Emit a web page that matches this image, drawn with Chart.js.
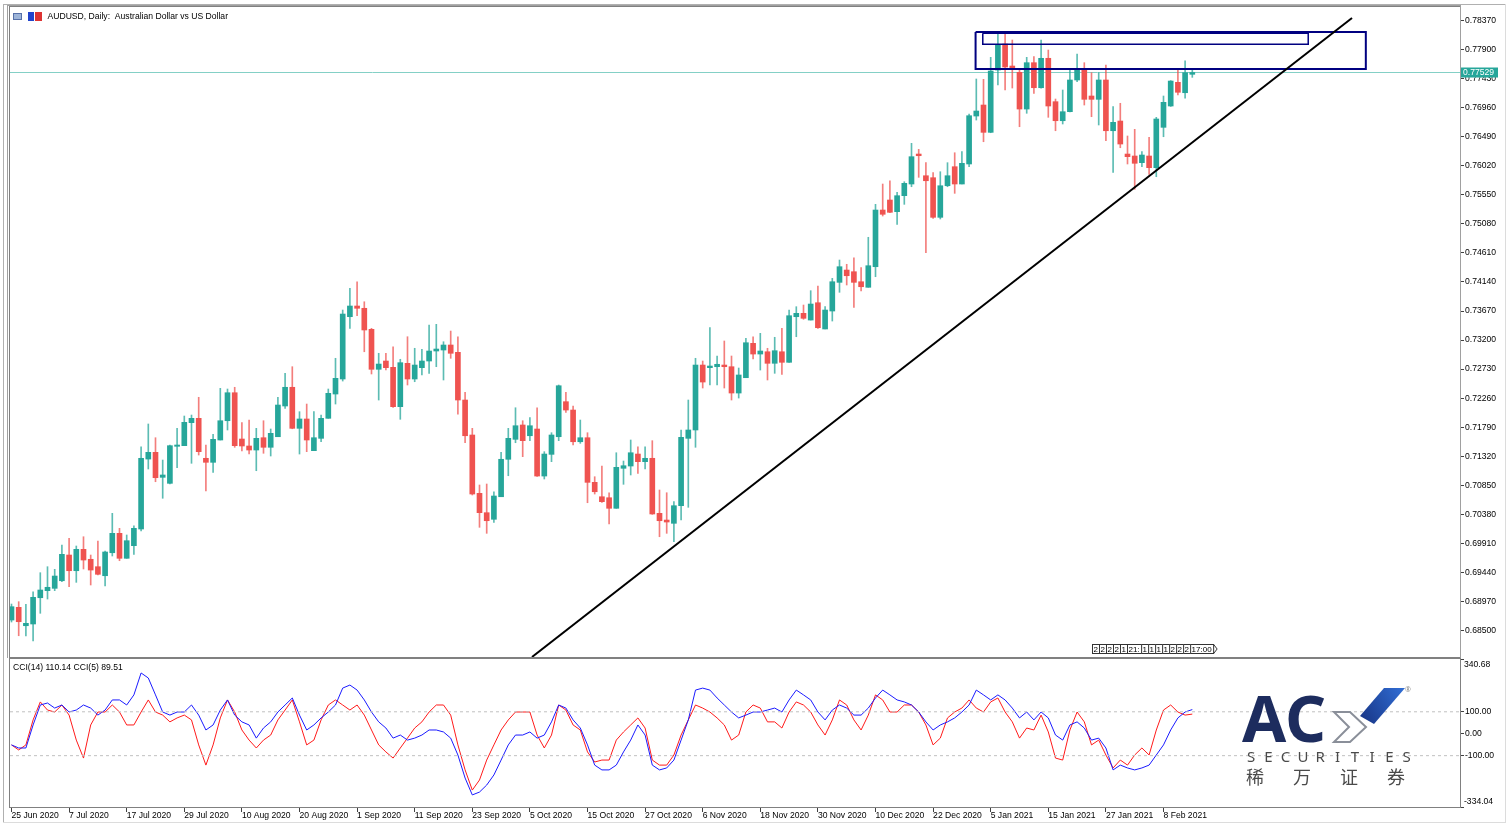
<!DOCTYPE html>
<html>
<head>
<meta charset="utf-8">
<script src="https://cdn.jsdelivr.net/npm/chart.js@4.4.1/dist/chart.umd.min.js"></script>
<style>
  body { margin: 0; background: #fff; width: 1511px; height: 832px; overflow: hidden; position: relative; }
  canvas { position: absolute; left: 0; }
  #main { top: 0; }
  #cci { top: 658px; }
  .frame { position: absolute; background: #b0b0b0; }
</style>
</head>
<body>
<canvas id="main" width="1511" height="658" style="width:1511px;height:658px"></canvas>
<canvas id="cci" width="1511" height="174" style="width:1511px;height:174px"></canvas>
<div class="frame" style="left:3px;top:4px;width:1px;height:819px"></div>
<div class="frame" style="left:3px;top:4px;width:1503px;height:1px"></div>
<div class="frame" style="left:1505px;top:4px;width:1px;height:819px;background:#dcdcdc"></div>
<div class="frame" style="left:3px;top:822px;width:1503px;height:1px;background:#dcdcdc"></div>
<script>
// AUDUSD daily, 25 Jun 2020 .. 12 Feb 2021 (one bar per trading day)
const opens = [
0.68670,0.68876,0.68578,0.68606,0.69031,0.69145,0.69183,0.69306,0.69722,0.69468,
0.69814,0.69653,0.69533,0.69387,0.69759,0.70073,0.69669,0.69873,0.70143,0.71275,
0.71384,0.70979,0.70882,0.71481,0.71491,0.71863,0.71934,0.71287,0.71222,0.71583,
0.71895,0.72348,0.71599,0.71486,0.71421,0.71620,0.71465,0.71636,0.72133,0.72436,
0.71772,0.71923,0.71410,0.71610,0.71934,0.72327,0.72570,0.73578,0.73751,0.73714,
0.73374,0.72727,0.72861,0.72759,0.72122,0.72824,0.72570,0.72753,0.72861,0.73023,
0.73039,0.73120,0.73002,0.72230,0.71664,0.70720,0.70407,0.70300,0.70665,0.71271,
0.71594,0.71826,0.71652,0.71761,0.71000,0.71351,0.71636,0.72203,0.72068,0.71555,
0.71620,0.70898,0.70665,0.70649,0.70478,0.71125,0.71162,0.71356,0.71232,0.71287,
0.70397,0.70288,0.70235,0.70520,0.71610,0.71745,0.72796,0.72753,0.72769,0.72796,
0.72769,0.72343,0.72591,0.73147,0.72974,0.73011,0.72824,0.73011,0.72840,0.73578,
0.73633,0.73524,0.73804,0.73379,0.73670,0.74134,0.74333,0.74306,0.74144,0.74054,
0.74387,0.75304,0.75466,0.75277,0.75536,0.75725,0.76210,0.75859,0.75827,0.75186,
0.75697,0.76005,0.75725,0.76049,0.76825,0.77003,0.76561,0.77569,0.77990,0.77634,
0.77532,0.76938,0.77688,0.77283,0.77759,0.77057,0.76749,0.76895,0.77408,0.77581,
0.77149,0.77095,0.77408,0.76587,0.76744,0.76210,0.76178,0.76070,0.76178,0.75989,
0.76642,0.76987,0.77370,0.77202,0.77500
];
const highs = [
0.68929,0.68967,0.68924,0.69128,0.69436,0.69533,0.69491,0.69884,0.69992,0.69868,
0.70018,0.69722,0.69949,0.69787,0.70397,0.70154,0.70046,0.70196,0.71474,0.71842,
0.71620,0.71259,0.71502,0.71772,0.71971,0.71987,0.72274,0.71502,0.71675,0.72419,
0.72408,0.72436,0.71863,0.71906,0.71772,0.71895,0.71761,0.72274,0.72662,0.72769,
0.72041,0.72165,0.72041,0.71987,0.72408,0.72905,0.73686,0.74037,0.74144,0.73820,
0.73390,0.72986,0.72986,0.73092,0.72889,0.73254,0.73067,0.73050,0.73444,0.73455,
0.73173,0.73346,0.73254,0.72355,0.71772,0.70855,0.70871,0.70746,0.71384,0.71772,
0.72105,0.71895,0.71944,0.72105,0.71394,0.71701,0.72473,0.72355,0.72133,0.71906,
0.71701,0.70989,0.71162,0.70730,0.71377,0.71243,0.71583,0.71474,0.71474,0.71572,
0.70774,0.70730,0.70585,0.71745,0.72230,0.72905,0.72861,0.73400,0.72942,0.73185,
0.72942,0.72748,0.73228,0.73254,0.73309,0.73067,0.73245,0.73390,0.73686,0.73740,
0.73767,0.73999,0.74075,0.73740,0.74199,0.74495,0.74426,0.74532,0.74371,0.74863,
0.75396,0.75725,0.75778,0.75591,0.75762,0.76383,0.76286,0.76070,0.75908,0.75924,
0.76070,0.76231,0.76248,0.76858,0.77424,0.77419,0.77775,0.78168,0.78168,0.78055,
0.77569,0.77775,0.77785,0.78055,0.77893,0.77100,0.77246,0.77581,0.77828,0.77688,
0.77526,0.77526,0.77650,0.76976,0.77031,0.76502,0.76610,0.76248,0.76481,0.76804,
0.77149,0.77398,0.77569,0.77720,0.77586
];
const lows = [
0.68638,0.68416,0.68412,0.68331,0.68779,0.69010,0.69145,0.69290,0.69209,0.69280,
0.69496,0.69237,0.69399,0.69221,0.69706,0.69630,0.69669,0.69733,0.70110,0.71114,
0.70908,0.70640,0.70871,0.71135,0.71491,0.71206,0.71340,0.70758,0.71060,0.71583,
0.71745,0.71465,0.71405,0.71356,0.71086,0.71368,0.71324,0.71636,0.72096,0.71765,
0.71356,0.71394,0.71410,0.71555,0.71934,0.72165,0.72537,0.73390,0.73594,0.73011,
0.72651,0.72230,0.72715,0.72112,0.71918,0.72473,0.72526,0.72635,0.72662,0.72769,
0.72554,0.72905,0.71999,0.71539,0.70693,0.70170,0.70073,0.70251,0.70665,0.71005,
0.71539,0.71313,0.71572,0.70995,0.70952,0.71232,0.71572,0.72031,0.71502,0.71529,
0.70568,0.70709,0.70575,0.70224,0.70478,0.70866,0.71017,0.71044,0.71114,0.70380,
0.70018,0.70073,0.69937,0.70288,0.70494,0.71465,0.72424,0.72473,0.72473,0.72424,
0.72230,0.72262,0.72591,0.72893,0.72715,0.72554,0.72662,0.72646,0.72840,0.73254,
0.73536,0.73524,0.73390,0.73379,0.73508,0.73973,0.74091,0.73730,0.73994,0.74054,
0.74225,0.75207,0.75260,0.75073,0.75396,0.75681,0.75833,0.74613,0.75170,0.75159,
0.75681,0.75574,0.75725,0.76005,0.76760,0.76409,0.76555,0.77327,0.77246,0.77278,
0.76652,0.76869,0.77192,0.77275,0.76804,0.76587,0.76696,0.76890,0.77380,0.77003,
0.76814,0.76680,0.76425,0.75914,0.76312,0.76049,0.75639,0.76005,0.75882,0.75843,
0.76490,0.76980,0.77165,0.77112,0.77451
];
const closes = [
0.68886,0.68643,0.68617,0.69038,0.69156,0.69200,0.69382,0.69733,0.69468,0.69814,
0.69641,0.69479,0.69410,0.69771,0.70073,0.69669,0.69954,0.70154,0.71287,0.71384,
0.70973,0.71017,0.71491,0.71502,0.71869,0.71934,0.71394,0.71222,0.71594,0.71895,
0.72348,0.71491,0.71486,0.71421,0.71610,0.71465,0.71691,0.72149,0.72436,0.71772,
0.71923,0.71583,0.71620,0.71934,0.72338,0.72581,0.73621,0.73751,0.73714,0.73363,
0.72727,0.72812,0.72753,0.72122,0.72834,0.72570,0.72796,0.72861,0.73023,0.73055,
0.73120,0.72986,0.72230,0.71652,0.70709,0.70407,0.70277,0.70677,0.71271,0.71610,
0.71814,0.71572,0.71814,0.71000,0.71356,0.71664,0.72461,0.72068,0.71555,0.71620,
0.70898,0.70746,0.70585,0.70478,0.71141,0.71167,0.71377,0.71232,0.71287,0.70386,
0.70277,0.70256,0.70520,0.71626,0.71745,0.72796,0.72521,0.72780,0.72808,0.72769,
0.72343,0.72635,0.73157,0.72974,0.73023,0.72824,0.73028,0.72840,0.73594,0.73633,
0.73552,0.73783,0.73400,0.73686,0.74144,0.74387,0.74241,0.74134,0.74063,0.74403,
0.75304,0.75235,0.75267,0.75536,0.75736,0.76167,0.76183,0.75778,0.75186,0.75697,
0.75859,0.75725,0.76060,0.76830,0.76906,0.76561,0.77553,0.77974,0.77618,0.77607,
0.76938,0.77688,0.77283,0.77759,0.76987,0.76749,0.76895,0.77408,0.77581,0.77095,
0.77095,0.77408,0.76587,0.76723,0.76372,0.76167,0.76060,0.76194,0.75989,0.76777,
0.77047,0.77391,0.77209,0.77526,0.77529
];
// CCI(14) and CCI(5)
const cci14 = [
-51,-65,-65,40,131,140,117,131,99,108,
131,117,85,108,154,154,131,177,277,254,
177,99,85,99,99,131,85,17,40,108,
154,85,54,40,-20,26,54,99,131,163,
85,17,40,72,99,131,208,222,199,154,
99,54,26,-20,-6,-29,-20,-6,17,17,
8,-20,-97,-202,-279,-266,-234,-188,-120,-51,
-6,-6,8,-20,-6,54,131,117,63,26,
-51,-143,-165,-165,-143,-83,-29,40,-6,-143,
-165,-156,-120,-29,63,199,208,199,163,131,
99,72,85,99,99,108,117,99,154,199,
177,154,99,63,108,131,117,85,85,117,
163,199,177,154,145,131,99,54,17,40,
54,72,99,131,199,177,154,177,154,117,
72,99,63,99,72,-6,-29,40,54,26,
-29,-20,-65,-165,-143,-156,-165,-156,-143,-97,
-51,17,72,99,110.14
];
const cci5 = [
-51,-74,-51,63,145,108,99,131,85,-29,
-111,40,99,99,131,99,40,40,99,154,
99,85,54,72,85,63,-51,-143,-51,72,
154,99,17,-29,-65,-29,-6,63,108,154,
54,-51,-29,63,131,154,131,108,131,85,
17,-51,-83,-111,-65,-20,26,54,99,131,
131,85,-51,-165,-257,-211,-120,-51,17,63,
99,99,99,-6,-65,-6,131,108,40,17,
-83,-129,-120,-120,-29,8,40,72,26,-120,
-143,-143,-97,-6,63,131,117,99,72,40,
-29,-6,99,131,117,54,54,26,99,145,
131,99,40,-6,63,154,131,63,17,85,
177,154,99,99,131,131,99,40,-51,-20,
72,99,117,154,117,99,145,163,99,54,
-20,26,17,85,8,-111,-120,17,99,54,
-51,-29,-97,-156,-120,-143,-97,-65,-97,17,
108,131,99,85,89.51
];
const tickBars = [0,8,16,24,32,40,48,56,64,72,80,88,96,104,112,120,128,136,144,152,160];
const tickLabels = ['25 Jun 2020','7 Jul 2020','17 Jul 2020','29 Jul 2020','10 Aug 2020','20 Aug 2020',
  '1 Sep 2020','11 Sep 2020','23 Sep 2020','5 Oct 2020','15 Oct 2020','27 Oct 2020','6 Nov 2020',
  '18 Nov 2020','30 Nov 2020','10 Dec 2020','22 Dec 2020','5 Jan 2021','15 Jan 2021','27 Jan 2021','8 Feb 2021'];
const priceTicks = [0.68500,0.68970,0.69440,0.69910,0.70380,0.70850,0.71320,0.71790,0.72260,0.72730,0.73200,
  0.73670,0.74140,0.74610,0.75080,0.75550,0.76020,0.76490,0.76960,0.77430,0.77900,0.78370];
const cciTicks = [-334.04, -100, 0, 100, 340.68];
const cciLevels = [100, -100];
const lastPrice = 0.77529;
// drawn objects: [barIndex, price]
const trendLine = [[72.29, 0.68072], [186.18, 0.78411]];
const bigBox = [[133.9, 0.78184], [188.1, 0.77586]];
const smallBox = [[134.9, 0.78163], [180.1, 0.77985]];
const sepLabels = ['2','2','2','2','1','21:','1','1','1','1','2','2','2','17:00'];

const xMin = -0.208, xMax = 201.18;
const FONT = '"Liberation Sans", Arial, sans-serif';
const TEAL = '#26a69a', RED = '#ef5350';

const idx = opens.map((v, i) => i);
const up = idx.map(i => closes[i] >= opens[i]);

function boxPath(b) {
  return [{x:b[0][0],y:b[0][1]},{x:b[1][0],y:b[0][1]},{x:b[1][0],y:b[1][1]},{x:b[0][0],y:b[1][1]},{x:b[0][0],y:b[0][1]}];
}
function noPad(s) {
  s.paddingTop = 0; s.paddingBottom = 0; s.paddingLeft = 0; s.paddingRight = 0;
}

const mainDecor = {
  id: 'mainDecor',
  afterDraw(chart) {
    const ctx = chart.ctx, a = chart.chartArea, ys = chart.scales.y;
    ctx.save();
    ctx.strokeStyle = '#808080';
    ctx.lineWidth = 1;
    ctx.strokeRect(a.left - 0.5, a.top - 0.5, a.right - a.left + 1, a.bottom - a.top + 1);
    ctx.strokeStyle = '#a0a0a0';
    ctx.strokeRect(7.5, 5.5, a.right - 7, a.bottom - 4);
    // title icons and text
    ctx.fillStyle = '#9db4d8'; ctx.fillRect(13, 13, 9, 7);
    ctx.strokeStyle = '#5670a8'; ctx.strokeRect(13.5, 13.5, 8, 6);
    ctx.fillStyle = '#2244cc'; ctx.fillRect(28, 12, 6, 9);
    ctx.fillStyle = '#dd3333'; ctx.fillRect(35, 12, 7, 9);
    ctx.fillStyle = '#000';
    ctx.font = '8.6px ' + FONT;
    ctx.textBaseline = 'middle';
    ctx.fillText('AUDUSD, Daily:  Australian Dollar vs US Dollar', 47.5, 17);
    // last price tag
    const py = ys.getPixelForValue(lastPrice);
    ctx.fillStyle = TEAL;
    ctx.fillRect(a.right + 1, py - 5, 37, 10);
    ctx.fillStyle = '#fff';
    ctx.fillText(lastPrice.toFixed(5), a.right + 3, py + 0.5);
    // period separator labels
    let x = 1092;
    ctx.font = '8px ' + FONT;
    sepLabels.forEach(t => {
      const w = t.length > 1 ? ctx.measureText(t).width + 3 : 7;
      ctx.fillStyle = '#fff';
      ctx.fillRect(x, 644, w, 10);
      ctx.strokeStyle = '#333';
      ctx.strokeRect(x + 0.5, 644.5, w, 9);
      ctx.fillStyle = '#000';
      ctx.fillText(t, x + 1.5, 649.5);
      x += w;
    });
    ctx.beginPath();
    ctx.moveTo(x + 0.5, 644.5); ctx.lineTo(x + 4, 649); ctx.lineTo(x + 0.5, 653.5);
    ctx.stroke();
    ctx.restore();
  }
};

new Chart(document.getElementById('main'), {
  type: 'bar',
  data: {
    datasets: [
      { type: 'line', data: [{x:xMin,y:lastPrice},{x:xMax,y:lastPrice}], borderColor: '#84d0c6', borderWidth: 1, pointRadius: 0, order: 5 },
      { type: 'bar', data: idx.map(i => ({x:i, y:[lows[i], highs[i]]})), backgroundColor: idx.map(i => up[i] ? 'rgba(38,166,154,0.75)' : 'rgba(239,83,80,0.75)'), barThickness: 1, grouped: false, order: 4 },
      { type: 'bar', data: idx.map(i => ({x:i, y:[opens[i], closes[i]]})), backgroundColor: idx.map(i => up[i] ? TEAL : RED), barThickness: 5, minBarLength: 1, grouped: false, order: 3 },
      { type: 'line', data: boxPath(bigBox), borderColor: '#000080', borderWidth: 2, pointRadius: 0, order: 1 },
      { type: 'line', data: boxPath(smallBox), borderColor: '#000080', borderWidth: 1.5, pointRadius: 0, order: 1 },
      { type: 'line', data: trendLine.map(p => ({x:p[0], y:p[1]})), borderColor: '#000', borderWidth: 2, pointRadius: 0, order: 0 }
    ]
  },
  options: {
    responsive: false, animation: false, devicePixelRatio: 1,
    layout: { padding: { left: 10, top: 7, right: 0, bottom: 1 } },
    plugins: { legend: { display: false }, tooltip: { enabled: false } },
    scales: {
      x: { type: 'linear', min: xMin, max: xMax, offset: false, display: false },
      y: {
        position: 'right', min: 0.68072, max: 0.78589,
        afterBuildTicks: s => { s.ticks = priceTicks.map(v => ({value: v})); },
        afterFit: s => { s.width = 51; noPad(s); },
        border: { display: true, color: '#606060' },
        grid: { drawOnChartArea: false, drawTicks: true, tickLength: 4, color: '#404040' },
        ticks: { color: '#000', padding: 1, font: { family: FONT, size: 8.6 }, callback: v => v.toFixed(5) }
      }
    }
  },
  plugins: [mainDecor]
});

const cciDecor = {
  id: 'cciDecor',
  afterDraw(chart) {
    const ctx = chart.ctx, a = chart.chartArea;
    ctx.save();
    ctx.strokeStyle = '#808080';
    ctx.lineWidth = 1;
    ctx.strokeRect(a.left - 0.5, a.top - 0.5, a.right - a.left + 1, a.bottom - a.top + 1);
    ctx.fillStyle = '#000';
    ctx.font = '8.6px ' + FONT;
    ctx.textBaseline = 'middle';
    ctx.fillText('CCI(14) ' + cci14[cci14.length - 1].toFixed(2) + ' CCI(5) ' + cci5[cci5.length - 1].toFixed(2), 13, 10);
    ctx.fillText(cciTicks[cciTicks.length - 1].toFixed(2), a.right + 4, a.top + 6);
    ctx.fillText(cciTicks[0].toFixed(2), a.right + 4, a.bottom - 5);
    // ACY logo
    const oy = -658;
    ctx.fillStyle = '#1d2c5e';
    ctx.font = 'bold 64px "Noto Sans", sans-serif';
    ctx.textBaseline = 'alphabetic';
    ctx.fillText('AC', 1242, 742 + oy);
    ctx.strokeStyle = '#8a8f99';
    ctx.lineWidth = 2;
    ctx.beginPath();
    ctx.moveTo(1334, 712 + oy); ctx.lineTo(1350, 712 + oy); ctx.lineTo(1366, 727 + oy);
    ctx.lineTo(1350, 742 + oy); ctx.lineTo(1334, 742 + oy); ctx.lineTo(1349, 727 + oy); ctx.closePath();
    ctx.stroke();
    const g = ctx.createLinearGradient(1360, 712 + oy, 1400, 688 + oy);
    g.addColorStop(0, '#1a3a8c'); g.addColorStop(1, '#2f6ad0');
    ctx.fillStyle = g;
    ctx.beginPath();
    ctx.moveTo(1360, 716 + oy); ctx.lineTo(1384, 688 + oy); ctx.lineTo(1405, 688 + oy); ctx.lineTo(1374, 724 + oy); ctx.closePath();
    ctx.fill();
    ctx.fillStyle = '#888';
    ctx.font = '7px "Noto Sans", sans-serif';
    ctx.fillText('\u00ae', 1405, 692 + oy);
    ctx.fillStyle = '#4a4a4a';
    ctx.font = '15px "Noto Sans", sans-serif';
    ctx.textAlign = 'center';
    'SECURITIES'.split('').forEach((c, k) => ctx.fillText(c, 1251 + k * 17.3, 762 + oy));
    ctx.font = '18px "Noto Sans CJK SC", sans-serif';
    ['稀','万','证','券'].forEach((c, k) => ctx.fillText(c, 1255 + k * 47, 784 + oy));
    ctx.restore();
  }
};

new Chart(document.getElementById('cci'), {
  type: 'line',
  data: {
    datasets: [
      ...cciLevels.map(v => ({ data: [{x:xMin,y:v},{x:xMax,y:v}], borderColor: '#c0c0c0', borderWidth: 1, borderDash: [3, 3], pointRadius: 0 })),
      { data: idx.map(i => ({x:i, y:cci14[i]})), borderColor: '#1a1aff', borderWidth: 1, pointRadius: 0 },
      { data: idx.map(i => ({x:i, y:cci5[i]})), borderColor: '#ff1a1a', borderWidth: 1, pointRadius: 0 }
    ]
  },
  options: {
    responsive: false, animation: false, devicePixelRatio: 1,
    layout: { padding: { left: 10, top: 1, right: 0, bottom: 0 } },
    plugins: { legend: { display: false }, tooltip: { enabled: false } },
    scales: {
      x: {
        type: 'linear', min: xMin, max: xMax, offset: false,
        afterBuildTicks: s => { s.ticks = tickBars.map(v => ({value: v})); },
        afterFit: s => { s.height = 25; noPad(s); },
        border: { display: true, color: '#606060' },
        grid: { drawOnChartArea: false, drawTicks: true, tickLength: 5, color: '#404040' },
        ticks: { color: '#000', align: 'start', autoSkip: false, maxRotation: 0, padding: -2,
          font: { family: FONT, size: 8.6 }, callback: (v, i) => tickLabels[i] }
      },
      y: {
        position: 'right', min: cciTicks[0], max: cciTicks[cciTicks.length - 1],
        afterBuildTicks: s => { s.ticks = cciTicks.map(v => ({value: v})); },
        afterFit: s => { s.width = 51; noPad(s); },
        border: { display: true, color: '#606060' },
        grid: { drawOnChartArea: false, drawTicks: true, tickLength: 4, color: '#404040' },
        ticks: { color: '#000', padding: 1, font: { family: FONT, size: 8.6 },
          callback: (v, i) => (i === 0 || i === cciTicks.length - 1) ? '' : v.toFixed(2) }
      }
    }
  },
  plugins: [cciDecor]
});
</script>
</body>
</html>
